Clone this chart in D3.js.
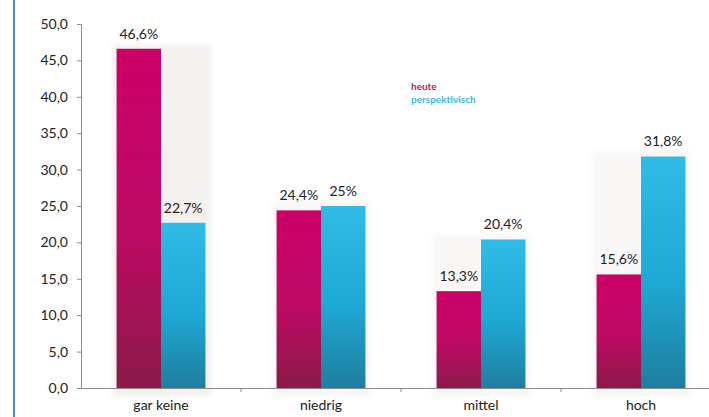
<!DOCTYPE html>
<html>
<head>
<meta charset="utf-8">
<script src="https://cdn.jsdelivr.net/npm/d3@7"></script>
<style>
body { margin: 0; background: #fff; }
svg { display: block; font-family: Lato, "Open Sans", sans-serif; }
</style>
</head>
<body>
<div id="chart"></div>
<script>
var categories = ["gar keine", "niedrig", "mittel", "hoch"];
var series = ["heute", "perspektivisch"];
var heute = [46.6, 24.4, 13.3, 15.6];
var perspektivisch = [22.7, 25, 20.4, 31.8];
var yTicks = [0, 5, 10, 15, 20, 25, 30, 35, 40, 45, 50];

var width = 709, height = 417;
var plotLeft = 81, plotRight = 721, plotTop = 24, plotBottom = 388;

var svg = d3.select("#chart").append("svg")
    .attr("width", width)
    .attr("height", height);

var defs = svg.append("defs");
var gM = defs.append("linearGradient").attr("id", "gM").attr("x1", 0).attr("y1", 0).attr("x2", 0).attr("y2", 1);
gM.append("stop").attr("offset", "0%").attr("stop-color", "#cc0068");
gM.append("stop").attr("offset", "55%").attr("stop-color", "#bc0a64");
gM.append("stop").attr("offset", "100%").attr("stop-color", "#8a1a48");
var gB = defs.append("linearGradient").attr("id", "gB").attr("x1", 0).attr("y1", 0).attr("x2", 0).attr("y2", 1);
gB.append("stop").attr("offset", "0%").attr("stop-color", "#30bce7");
gB.append("stop").attr("offset", "55%").attr("stop-color", "#1ea8d4");
gB.append("stop").attr("offset", "100%").attr("stop-color", "#1f7e9e");
defs.append("filter").attr("id", "blur").append("feGaussianBlur").attr("stdDeviation", 2.5);

var data = categories.map(function(c, i) {
    return { cat: c, values: [heute[i], perspektivisch[i]] };
});

var x0 = d3.scaleBand().domain(categories).range([plotLeft, plotRight]);
var x1 = d3.scaleBand().domain(series).range([0, x0.bandwidth()]).paddingOuter(0.8);
var y = d3.scaleLinear().domain([0, 50]).range([plotBottom, plotTop]);

var fmt = function(v) {
    return (v % 1 === 0 ? String(v) : d3.format(".1f")(v).replace(".", ",")) + "%";
};

// left border line
svg.append("line")
    .attr("x1", 14).attr("x2", 14).attr("y1", 0).attr("y2", height)
    .attr("stroke", "#4f88c6").attr("stroke-width", 2);

// soft shadow behind groups
svg.append("g").selectAll("rect")
    .data(data)
    .join("rect")
    .attr("x", function(d) { return x0(d.cat) + x1("heute") - 4; })
    .attr("width", x1.bandwidth() * 2 + 10)
    .attr("y", function(d) { return y(d3.max(d.values)) - 5; })
    .attr("height", function(d) { return plotBottom - y(d3.max(d.values)) + 14; })
    .attr("fill", function(d, i) { return i === 0 ? "#f3f1ed" : "#f8f7f5"; })
    .attr("filter", "url(#blur)");

// bars
var groups = svg.append("g").selectAll("g")
    .data(data)
    .join("g")
    .attr("transform", function(d) { return "translate(" + x0(d.cat) + ",0)"; });

groups.selectAll("rect")
    .data(function(d) { return d.values.map(function(v, i) { return { s: series[i], v: v }; }); })
    .join("rect")
    .attr("x", function(d) { return x1(d.s); })
    .attr("width", x1.bandwidth())
    .attr("y", function(d) { return y(d.v); })
    .attr("height", function(d) { return plotBottom - y(d.v); })
    .attr("fill", function(d) { return d.s === "heute" ? "url(#gM)" : "url(#gB)"; });

groups.selectAll("text")
    .data(function(d) { return d.values.map(function(v, i) { return { s: series[i], v: v }; }); })
    .join("text")
    .attr("x", function(d) { return x1(d.s) + x1.bandwidth() / 2; })
    .attr("y", function(d) { return y(d.v) - 10; })
    .attr("text-anchor", "middle")
    .attr("font-size", 14)
    .attr("fill", "#222")
    .text(function(d) { return fmt(d.v); });

// y axis
var yAxis = svg.append("g")
    .attr("transform", "translate(" + plotLeft + ",0)")
    .call(d3.axisLeft(y).tickValues(yTicks).tickSize(4).tickPadding(9)
        .tickFormat(function(d) { return d3.format(".1f")(d).replace(".", ","); }));
yAxis.select(".domain").attr("stroke", "#8c8c8c");
yAxis.selectAll(".tick line").attr("stroke", "#8c8c8c");
yAxis.selectAll("text").attr("font-size", 14).attr("fill", "#222").attr("font-family", "Lato, sans-serif");

// x axis
var xAxis = svg.append("g")
    .attr("transform", "translate(0," + plotBottom + ")")
    .call(d3.axisBottom(x0).tickSize(0).tickPadding(12));
xAxis.select(".domain").attr("stroke", "#8c8c8c");
xAxis.selectAll("text").attr("font-size", 14).attr("fill", "#222").attr("font-family", "Lato, sans-serif");
svg.append("g").selectAll("line")
    .data(categories.slice(1))
    .join("line")
    .attr("x1", function(d) { return x0(d); })
    .attr("x2", function(d) { return x0(d); })
    .attr("y1", plotBottom).attr("y2", plotBottom + 4)
    .attr("stroke", "#8c8c8c");

// legend
var legendColors = ["#c0126e", "#35b9e6"];
svg.append("g").selectAll("text")
    .data(series)
    .join("text")
    .attr("x", 411)
    .attr("y", function(d, i) { return 90 + i * 13; })
    .attr("font-size", 10)
    .attr("font-weight", "bold")
    .attr("fill", function(d, i) { return legendColors[i]; })
    .text(function(d) { return d; });
</script>
</body>
</html>
